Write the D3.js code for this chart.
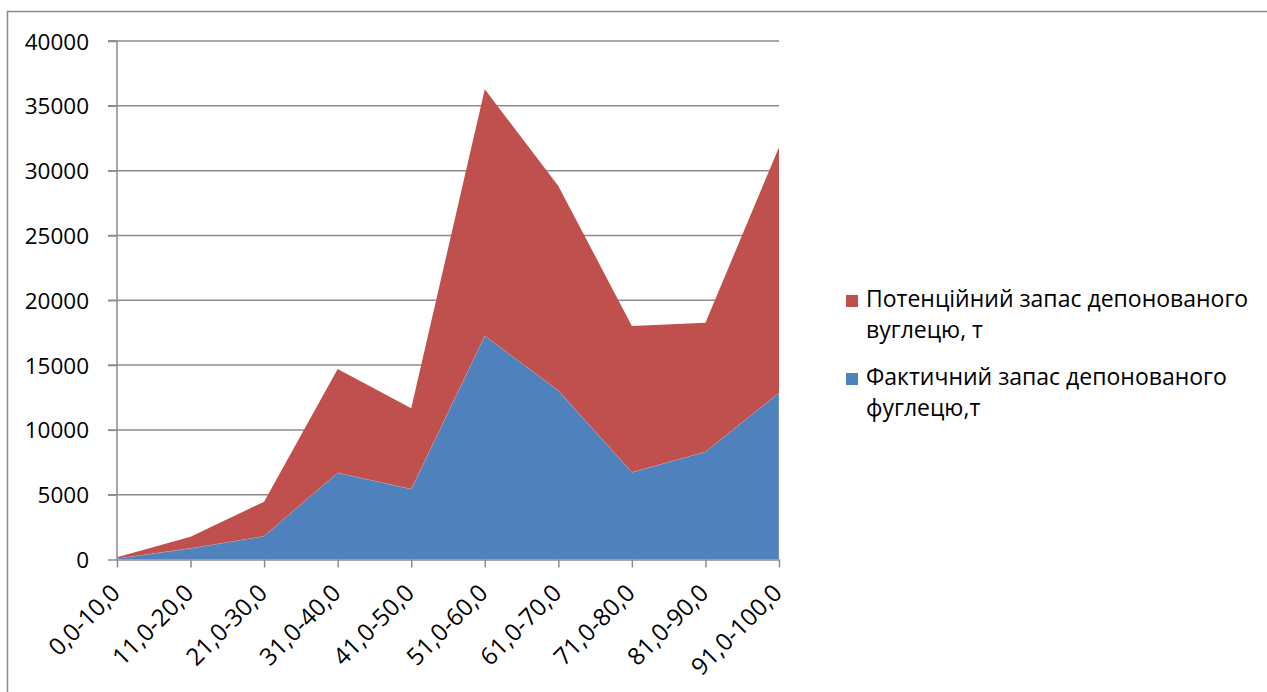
<!DOCTYPE html>
<html>
<head>
<meta charset="utf-8">
<script src="https://cdn.jsdelivr.net/npm/d3@7"></script>
<style>
  html, body { margin: 0; padding: 0; background: #fff; }
  svg { display: block; }
  text { font-family: "Open Sans", "Noto Sans", sans-serif; fill: #000; }
</style>
</head>
<body>
<svg id="chart" width="1267" height="692"></svg>
<script>
const categories = ["0,0-10,0","11,0-20,0","21,0-30,0","31,0-40,0","41,0-50,0","51,0-60,0","61,0-70,0","71,0-80,0","81,0-90,0","91,0-100,0"];
const actualValues = [80, 860, 1810, 6700, 5440, 17270, 13030, 6730, 8320, 12870];
const potentialValues = [90, 900, 2650, 8000, 6230, 19010, 15790, 11290, 9950, 18930];
const yTicks = [0, 5000, 10000, 15000, 20000, 25000, 30000, 35000, 40000];
const seriesNames = ["Фактичний запас депонованого фуглецю,т", "Потенційний запас депонованого вуглецю, т"];
const legendLines = [["Потенційний запас депонованого", "вуглецю, т"], ["Фактичний запас депонованого", "фуглецю,т"]];
const colors = ["#4F81BD", "#C0504D"];

const FONT = "Open Sans, Noto Sans, sans-serif";
const svg = d3.select("#chart");
const plotLeft = 117, plotRight = 779, plotTop = 41, plotBottom = 559.5;

// outer border
svg.append("path").attr("d", "M7.5,692 L7.5,11.5 L1267,11.5").attr("fill", "none").attr("stroke", "#8c8c8c").attr("stroke-width", 1.5);

const x = d3.scalePoint().domain(categories).range([plotLeft, plotRight]).padding(0);
const y = d3.scaleLinear().domain([0, 40000]).range([plotBottom, plotTop]);

// gridlines
svg.append("g").selectAll("line").data(yTicks.filter(d => d > 0)).join("line")
  .attr("x1", plotLeft - 9).attr("x2", plotRight)
  .attr("y1", d => y(d)).attr("y2", d => y(d))
  .attr("stroke", "#8c8c8c").attr("stroke-width", 1.5);

// stacked areas
const rows = categories.map((c, i) => ({cat: c, a: actualValues[i], p: potentialValues[i]}));
const stack = d3.stack().keys(["a", "p"]);
const stacked = stack(rows);
const area = d3.area().x(d => x(d.data.cat)).y0(d => y(d[0])).y1(d => y(d[1]));
svg.append("g").selectAll("path").data(stacked).join("path")
  .attr("d", area).attr("fill", (d, i) => colors[i])
  .attr("stroke", (d, i) => i === 0 ? "rgba(255,255,255,0.5)" : "none").attr("stroke-width", 0.6);

// y axis
const yAxis = d3.axisLeft(y).tickValues(yTicks).tickSize(9).tickPadding(19).tickFormat(d3.format("d"));
const gy = svg.append("g").attr("transform", `translate(${plotLeft},0)`).call(yAxis);
gy.select(".domain").attr("stroke", "#8c8c8c").attr("stroke-width", 1.5).attr("d", `M-9,${plotTop}H0V${plotBottom}`);
gy.selectAll(".tick line").attr("stroke", "#8c8c8c").attr("stroke-width", 1.5);
gy.selectAll(".tick text").attr("font-size", 22.5).attr("font-family", FONT).attr("fill", "#000").attr("dy", "0.36em");

// x axis
const xAxis = d3.axisBottom(x).tickSize(8).tickSizeOuter(0).tickFormat(d => d);
const gx = svg.append("g").attr("transform", `translate(0,${plotBottom})`).call(xAxis);
gx.select(".domain").attr("stroke", "#8c8c8c").attr("stroke-width", 1.5);
gx.selectAll(".tick line").attr("stroke", "#8c8c8c").attr("stroke-width", 1.5);
gx.selectAll(".tick text")
  .attr("font-size", 24).attr("font-family", FONT).attr("fill", "#000")
  .attr("text-anchor", "end").attr("dy", null).attr("y", 0)
  .attr("transform", "translate(4,35) rotate(-45)");

// legend
const legend = svg.append("g");
const entryY = [307, 385];
legendLines.forEach((lines, i) => {
  const g = legend.append("g");
  g.append("rect").attr("x", 846).attr("y", entryY[i] - 12).attr("width", 12).attr("height", 12).attr("fill", colors[1 - i]);
  lines.forEach((ln, j) => {
    g.append("text").attr("x", 866).attr("y", entryY[i] + j * 31).attr("font-size", 23).attr("font-family", FONT).text(ln);
  });
});
</script>
</body>
</html>
